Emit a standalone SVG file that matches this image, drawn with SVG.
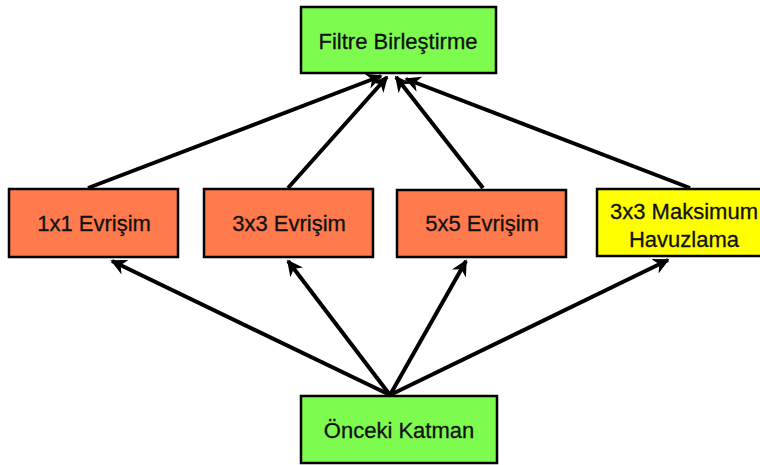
<svg xmlns="http://www.w3.org/2000/svg" width="760" height="465" viewBox="0 0 760 465">
  <style>
    .box { stroke: #000; stroke-width: 2.5; }
    .green { fill: #7dfb4f; }
    .orange { fill: #ff7a4c; }
    .yellow { fill: #ffff00; }
    .label { font-family: "Liberation Sans", Arial, sans-serif; font-size: 22px; fill: #111; stroke: #111; stroke-width: 0.3; text-anchor: middle; dominant-baseline: central; }
    .edge { stroke: #000; stroke-width: 4; fill: none; marker-end: url(#arrow); }
  </style>
  <defs>
    <marker id="arrow" viewBox="0 0 10 10" refX="9" refY="5" markerWidth="4" markerHeight="4" orient="auto" markerUnits="strokeWidth">
      <path d="M0,0 L10,5 L0,10 L3,5 Z" fill="#000"/>
    </marker>
  </defs>
  <rect width="760" height="465" fill="#fff"/>

  <g id="connectors">
    <line class="edge" x1="88" y1="188" x2="381" y2="76"/>
    <line class="edge" x1="288" y1="188" x2="387" y2="77"/>
    <line class="edge" x1="483" y1="188" x2="396" y2="77"/>
    <line class="edge" x1="690" y1="188" x2="406" y2="79"/>
    <line class="edge" x1="390" y1="395" x2="112" y2="261"/>
    <line class="edge" x1="390" y1="395" x2="288" y2="261"/>
    <line class="edge" x1="390" y1="395" x2="466" y2="261"/>
    <line class="edge" x1="390" y1="395" x2="668" y2="260"/>
  </g>

  <g id="filtre-birlestirme">
    <rect class="box green" x="301" y="7" width="195" height="66"/>
    <text class="label" x="398" y="41">Filtre Birleştirme</text>
  </g>

  <g id="evrisim-1x1">
    <rect class="box orange" x="9" y="189" width="169" height="68"/>
    <text class="label" x="94" y="223">1x1 Evrişim</text>
  </g>

  <g id="evrisim-3x3">
    <rect class="box orange" x="204" y="189" width="169" height="68"/>
    <text class="label" x="289" y="223">3x3 Evrişim</text>
  </g>

  <g id="evrisim-5x5">
    <rect class="box orange" x="397" y="190" width="169" height="67"/>
    <text class="label" x="482" y="223">5x5 Evrişim</text>
  </g>

  <g id="maks-havuzlama">
    <rect class="box yellow" x="597" y="189" width="175" height="67"/>
    <text class="label" x="684" y="211">3x3 Maksimum</text>
    <text class="label" x="684" y="239">Havuzlama</text>
  </g>

  <g id="onceki-katman">
    <rect class="box green" x="301" y="396" width="196" height="67"/>
    <text class="label" x="399" y="430">Önceki Katman</text>
  </g>
</svg>
